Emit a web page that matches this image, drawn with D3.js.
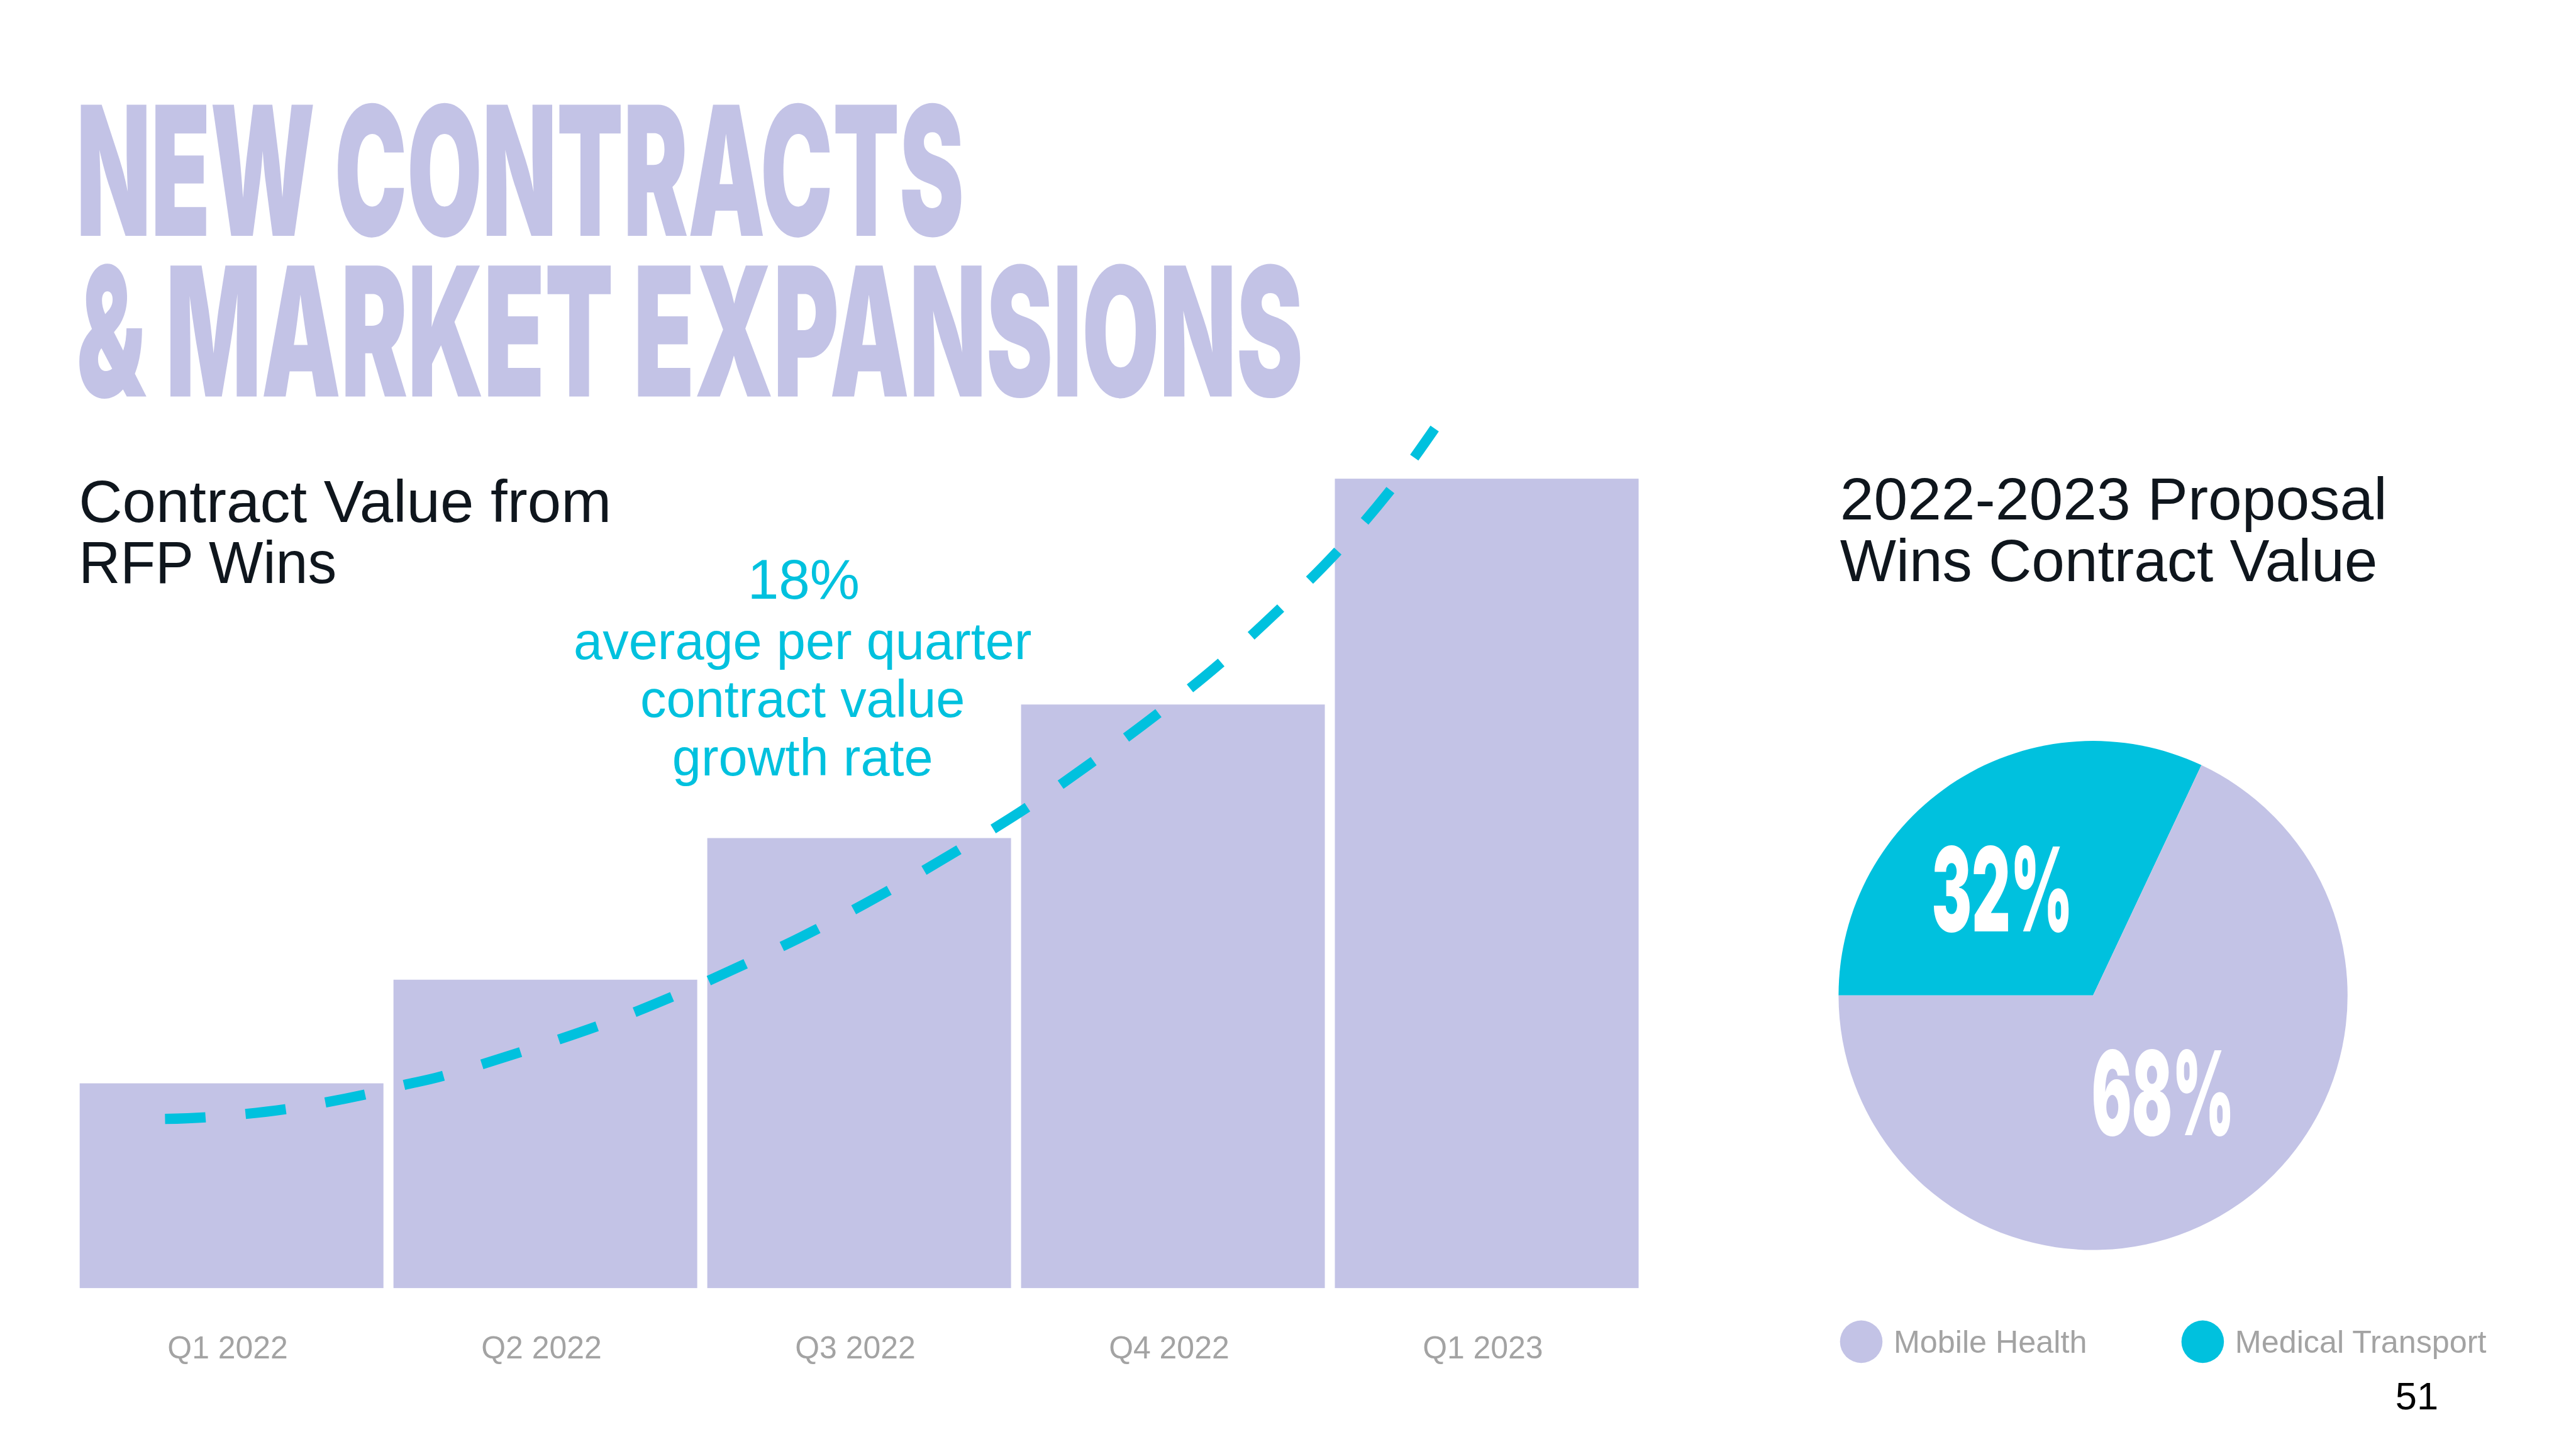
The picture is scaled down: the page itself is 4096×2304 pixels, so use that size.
<!DOCTYPE html>
<html><head><meta charset="utf-8">
<script src="https://cdn.jsdelivr.net/npm/d3@7"></script>
<style>html,body{margin:0;padding:0;background:#fff;overflow:hidden}</style>
</head><body>
<svg id="chart"></svg>
<script>
// ---------- data ----------
const titleLines = ["NEW CONTRACTS", "& MARKET EXPANSIONS"];
const leftSubtitle = ["Contract Value from", "RFP Wins"];
const rightSubtitle = ["2022-2023 Proposal", "Wins Contract Value"];
const categories = ["Q1 2022", "Q2 2022", "Q3 2022", "Q4 2022", "Q1 2023"];
const barValues = [25.3, 38.1, 55.6, 72.1, 100];           // relative contract value (Q1 2023 = 100)
const trendIndex  = [-0.212, -0.083, 0.171, 0.423, 0.549, 0.672, 1.162, 1.398, 1.634, 1.863, 2.089, 2.311, 2.528, 2.740, 2.946, 3.145, 3.335, 3.517, 3.685, 3.834];
const trendValues = [20.9, 21.1, 22.1, 23.9, 25.1, 26.2, 32.3, 35.9, 40.0, 44.3, 49.0, 54.0, 59.2, 64.9, 70.8, 77.0, 83.7, 90.7, 98.2, 106.2];
const growthLabel = "18%";
const growthText = ["average per quarter", "contract value", "growth rate"];
const pieNames = ["Medical Transport", "Mobile Health"];
const pieValues = [32, 68];
const legendNames = ["Mobile Health", "Medical Transport"];
const pageNumber = "51";

// ---------- setup ----------
const W = 5334, H = 3000;
const LAV = "#C3C3E6", CYAN = "#00C1DE", GRAY = "#A3A3A3", DARK = "#0F161D";
const svg = d3.select("#chart").attr("width", 4096).attr("height", 2304)
  .attr("viewBox", `0 0 ${W} ${H}`);
svg.append("rect").attr("width", W).attr("height", H).attr("fill", "#fff");

// title: condensed heavy lettering, stretched vertically
const titleFont = "Inter, Roboto, 'DejaVu Sans', sans-serif";
const titleSpec = [{x: 158, y: 488, len: 1838}, {x: 158, y: 821, len: 2540}];
svg.append("g").selectAll("text").data(titleLines).join("text")
  .attr("transform", (d, i) => `translate(${titleSpec[i].x},${titleSpec[i].y}) scale(1,1.13)`)
  .attr("x", 0).attr("y", 0)
  .attr("textLength", (d, i) => titleSpec[i].len).attr("lengthAdjust", "spacingAndGlyphs")
  .attr("font-family", titleFont).attr("font-weight", 900).attr("font-size", 330)
  .attr("fill", LAV).text(d => d);

// subtitles
const sansFont = "'Liberation Sans', Arial, Helvetica, sans-serif";
const leftSpec = [{y: 1081, len: 1103}, {y: 1207, len: 534}];
svg.append("g").selectAll("text").data(leftSubtitle).join("text")
  .attr("x", 163).attr("y", (d, i) => leftSpec[i].y)
  .attr("textLength", (d, i) => leftSpec[i].len).attr("lengthAdjust", "spacingAndGlyphs")
  .attr("font-family", sansFont).attr("font-size", 123).attr("fill", DARK).text(d => d);
const rightSpec = [{y: 1076, len: 1133}, {y: 1203, len: 1113}];
svg.append("g").selectAll("text").data(rightSubtitle).join("text")
  .attr("x", 3810).attr("y", (d, i) => rightSpec[i].y)
  .attr("textLength", (d, i) => rightSpec[i].len).attr("lengthAdjust", "spacingAndGlyphs")
  .attr("font-family", sansFont).attr("font-size", 123).attr("fill", DARK).text(d => d);

// ---------- bar chart ----------
const x = d3.scaleBand().domain(categories).range([165, 3393]).paddingInner(0.032).paddingOuter(0);
const y = d3.scaleLinear().domain([0, 100]).range([2667, 991]);
svg.append("g").selectAll("rect").data(barValues).join("rect")
  .attr("x", (d, i) => x(categories[i])).attr("width", x.bandwidth())
  .attr("y", d => y(d)).attr("height", d => y(0) - y(d))
  .attr("fill", LAV);

const axis = svg.append("g").attr("transform", `translate(0,${y(0)})`)
  .call(d3.axisBottom(x).tickSize(0).tickPadding(99));
axis.select(".domain").remove();
axis.selectAll("text").attr("font-family", sansFont).attr("font-size", 65).attr("fill", GRAY)
  .attr("dx", -8);

// trend line
const xi = d3.scaleLinear().domain([0, categories.length - 1])
  .range([x(categories[0]) + x.bandwidth() / 2, x(categories[categories.length - 1]) + x.bandwidth() / 2]);
const line = d3.line().x(d => xi(d[0])).y(d => y(d[1])).curve(d3.curveCatmullRom.alpha(0.5));
svg.append("path").datum(trendIndex.map((t, i) => [t, trendValues[i]]))
  .attr("d", line).attr("fill", "none").attr("stroke", CYAN)
  .attr("stroke-width", 21).attr("stroke-dasharray", "84 83").attr("stroke-linecap", "butt");

// growth annotation
const ann = svg.append("g").attr("font-family", sansFont).attr("fill", CYAN).attr("text-anchor", "middle");
ann.append("text").attr("x", 1664).attr("y", 1240).attr("font-size", 116).text(growthLabel);
ann.selectAll("text.l").data(growthText).join("text").attr("class", "l")
  .attr("x", 1662).attr("y", (d, i) => 1364 + i * 121).attr("font-size", 108).text(d => d);

// ---------- pie ----------
const pcx = 4334, pcy = 2061, pr = 527;
const pie = d3.pie().sort(null).startAngle(-Math.PI / 2).endAngle(1.5 * Math.PI);
const arcs = pie(pieValues);
const arc = d3.arc().innerRadius(0).outerRadius(pr);
const pieColors = d3.scaleOrdinal().domain(pieNames).range([CYAN, LAV]);
const pg = svg.append("g").attr("transform", `translate(${pcx},${pcy})`);
pg.selectAll("path").data(arcs).join("path")
  .attr("d", arc).attr("fill", (d, i) => pieColors(pieNames[i]));
const pieLabelSpec = [{x: -334, y: -132, len: 292}, {x: -3, y: 290, len: 296}];
pg.selectAll("text").data(arcs).join("text")
  .attr("x", (d, i) => pieLabelSpec[i].x).attr("y", (d, i) => pieLabelSpec[i].y)
  .attr("textLength", (d, i) => pieLabelSpec[i].len).attr("lengthAdjust", "spacingAndGlyphs")
  .attr("font-family", titleFont).attr("font-weight", 900).attr("font-size", 242)
  .attr("fill", "#fff").text(d => d.value + "%");

// legend
const legX = [3854, 4561];
const lg = svg.append("g");
legendNames.forEach((n, i) => {
  lg.append("circle").attr("cx", legX[i]).attr("cy", 2778).attr("r", 44).attr("fill", pieColors(n));
  lg.append("text").attr("x", legX[i] + 67).attr("y", 2801)
    .attr("font-family", sansFont).attr("font-size", 65.5).attr("fill", GRAY).text(n);
});

// page number
svg.append("text").attr("x", 4960).attr("y", 2918).attr("font-family", sansFont)
  .attr("font-size", 80).attr("fill", "#000").text(pageNumber);
</script>
</body></html>
